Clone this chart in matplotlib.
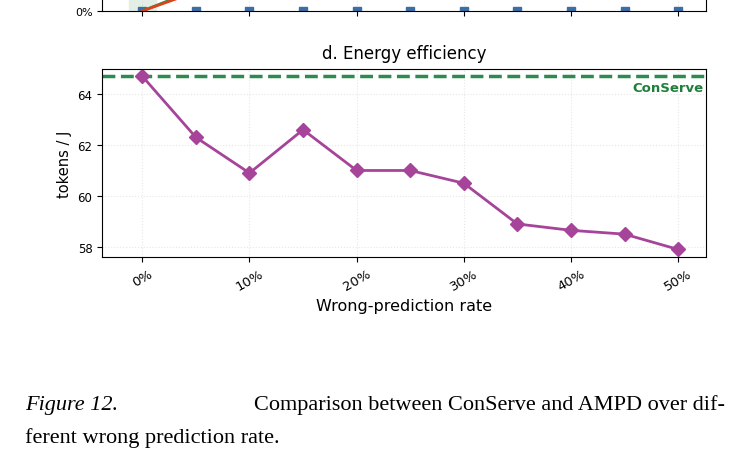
import matplotlib
matplotlib.use("Agg")
import matplotlib.pyplot as plt
import numpy as np

rates = ["0%", "5%", "10%", "15%", "20%", "25%", "30%", "35%", "40%", "45%", "50%"]
eff = [64.7, 62.3, 60.9, 62.6, 61.0, 61.0, 60.5, 58.9, 58.65, 58.5, 57.9]
conserve_eff = 64.7
# remnants of panel c (top, cropped)
c_blue = [0]*11
c_red = [0, 10]
c_green = [0, 11]

fig = plt.figure(figsize=(7.51, 4.77), dpi=100)
x = np.arange(len(rates))

axc = fig.add_axes([0.136, 0.975, 0.804, 0.4])
axc.axvspan(-0.25, 0.25, color="#e3efe6")
axc.plot(x, c_blue, "s", color="#3b6ea5", ms=6, clip_on=True)
axc.plot([0, 1], c_green, color="#2e8b3e", lw=2)
axc.plot([0, 1], c_red, color="#d9431e", lw=2)
axc.set_xlim(-0.75, 10.52)
axc.set_ylim(0, 100)
axc.set_yticks([0]); axc.set_yticklabels(["0%"], fontsize=8)
axc.set_xticks(x[::2]); axc.set_xticklabels([])
axc.grid(True, ls=":", alpha=0.3)

ax = fig.add_axes([0.136, 0.459, 0.804, 0.394])
ax.axhline(conserve_eff, color="#2e8b4e", ls="--", lw=2.5)
ax.text(10.48, conserve_eff - 0.2, "ConServe", color="#1e7f3a", fontsize=9.5,
        fontweight="bold", ha="right", va="top")
ax.plot(x, eff, "-D", color="#a6449a", lw=2, ms=7)
ax.set_xlim(-0.75, 10.52)
ax.set_ylim(57.6, 64.98)
ax.set_yticks([58, 60, 62, 64])
ax.tick_params(axis="y", labelsize=8.5)
ax.set_xticks(x[::2])
ax.set_xticklabels(rates[::2], rotation=30, fontsize=9.5)
ax.set_ylabel("tokens / J", fontsize=10.5)
ax.set_xlabel("Wrong-prediction rate", fontsize=11.5)
ax.set_title("d. Energy efficiency", fontsize=12, pad=8)
ax.grid(True, ls=":", alpha=0.3)

fig.text(0.033, 0.14, "Figure 12.", fontsize=16, family="Liberation Serif", style="italic")
fig.text(0.965, 0.14, "Comparison between ConServe and AMPD over dif-",
         fontsize=16, family="Liberation Serif", ha="right")
fig.text(0.033, 0.072, "ferent wrong prediction rate.", fontsize=16, family="Liberation Serif")

fig.savefig("out.png", dpi=100)
